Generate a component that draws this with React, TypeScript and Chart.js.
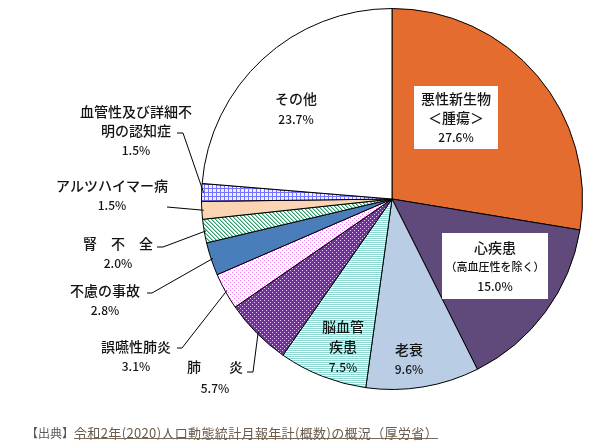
import React, { useEffect, useRef } from 'react';
import { Chart, registerables } from 'chart.js';

Chart.register(...registerables);

// ---- data ----
const categories = [
  '悪性新生物＜腫瘍＞',
  '心疾患（高血圧性を除く）',
  '老衰',
  '脳血管疾患',
  '肺炎',
  '誤嚥性肺炎',
  '不慮の事故',
  '腎不全',
  'アルツハイマー病',
  '血管性及び詳細不明の認知症',
  'その他',
];
const shares = [27.6, 15.0, 9.6, 7.5, 5.7, 3.1, 2.8, 2.0, 1.5, 1.5, 23.7];
const labelLines = [
  ['悪性新生物', '＜腫瘍＞'],
  ['心疾患', '（高血圧性を除く）'],
  ['老衰'],
  ['脳血管', '疾患'],
  ['肺　　炎'],
  ['誤嚥性肺炎'],
  ['不慮の事故'],
  ['腎　不　全'],
  ['アルツハイマー病'],
  ['血管性及び詳細不', '明の認知症'],
  ['その他'],
];
const sourceLabel = '【出典】';
const sourceTitle = '令和2年(2020)人口動態統計月報年計(概数)の概況（厚労省）';

// ---- styles / layout ----
const fills = [
  '#E46C2E', '#604A7B', '#B9CDE5', 'p:hlines', 'p:purpleDots', 'p:pinkDots',
  '#4A7EBB', 'p:greenDiag', '#FBD4B4', 'p:blueGrid', '#FFFFFF',
];

type LabelLayout = {
  dx: number; dy: number; box?: [number, number, number, number];
  small?: boolean; leader?: [number, number][]; lh?: number;
};
const layout: LabelLayout[] = [
  { dx: 64, dy: -100, box: [-42, -13, 84, 63] },
  { dx: 103, dy: 49, box: [-53, -15, 106, 66], small: true },
  { dx: 17, dy: 151 },
  { dx: -49, dy: 128, lh: 20 },
  { dx: -177, dy: 168, lh: 21, leader: [[-145, 173], [-139, 173]] },
  { dx: -256, dy: 148, leader: [[-215, 149], [-210, 149]] },
  { dx: -287, dy: 92, leader: [[-245, 94], [-240, 94]] },
  { dx: -274, dy: 45, leader: [[-235, 48], [-229, 48]] },
  { dx: -280, dy: -13, leader: [[-225, 8]] },
  { dx: -256, dy: -87, leader: [[-215, -66], [-209, -66]] },
  { dx: -96, dy: -100, lh: 20 },
];

function makePattern(kind: string): CanvasPattern | string {
  const c = document.createElement('canvas');
  let w = 4, h = 4;
  if (kind === 'hlines') { w = 4; h = 2; }
  c.width = w; c.height = h;
  const g = c.getContext('2d')!;
  g.fillStyle = '#ffffff';
  g.fillRect(0, 0, w, h);
  if (kind === 'hlines') {
    g.fillStyle = '#8fd8d2';
    g.fillRect(0, 0, w, 1);
  } else if (kind === 'purpleDots') {
    g.fillStyle = '#7030A0';
    g.fillRect(0, 0, w, h);
    g.fillStyle = '#e8ccf4';
    g.fillRect(0, 0, 1, 1);
    g.fillRect(2, 2, 1, 1);
  } else if (kind === 'pinkDots') {
    g.fillStyle = '#f57cf5';
    g.fillRect(0, 0, 1, 1);
    g.fillRect(2, 2, 1, 1);
  } else if (kind === 'greenDiag') {
    for (let y = 0; y < h; y++) {
      for (let x = 0; x < w; x++) {
        const m = (((x - y) % 4) + 4) % 4;
        if (m === 0) { g.fillStyle = '#2f9d6b'; g.fillRect(x, y, 1, 1); }
        else if (m === 1) { g.fillStyle = '#9fd5bb'; g.fillRect(x, y, 1, 1); }
      }
    }
  } else if (kind === 'blueGrid') {
    g.fillStyle = '#7373ff';
    g.fillRect(0, 0, w, h);
    g.fillStyle = '#f0f0ff';
    g.fillRect(1, 1, 3, 3);
  }
  return g.createPattern(c, 'repeat') || '#ffffff';
}

const FONT = '"Noto Sans CJK JP", "Noto Sans", sans-serif';
const TEXT = '#141414';

const labelPlugin = {
  id: 'sliceLabels',
  afterDraw(chart: any) {
    const ctx = chart.ctx as CanvasRenderingContext2D;
    const meta = chart.getDatasetMeta(0);
    const a0 = meta.data[0];
    const { x: cx, y: cy, outerRadius: R } = a0.getProps(['x', 'y', 'outerRadius'], true);
    ctx.save();
    layout.forEach((L, i) => {
      const arc = meta.data[i];
      const { startAngle, endAngle } = arc.getProps(['startAngle', 'endAngle'], true);
      const mid = (startAngle + endAngle) / 2;
      const lx = cx + L.dx;
      const ly = cy + L.dy;
      if (L.box) {
        ctx.fillStyle = '#ffffff';
        ctx.fillRect(lx + L.box[0], ly + L.box[1], L.box[2], L.box[3]);
      }
      if (L.leader) {
        ctx.strokeStyle = '#000000';
        ctx.lineWidth = 1;
        ctx.beginPath();
        L.leader.forEach(([px, py], k) => {
          if (k === 0) ctx.moveTo(cx + px, cy + py);
          else ctx.lineTo(cx + px, cy + py);
        });
        ctx.lineTo(cx + Math.cos(mid) * R * 0.99, cy + Math.sin(mid) * R * 0.99);
        ctx.stroke();
      }
      const lh = L.lh || 19;
      ctx.fillStyle = TEXT;
      ctx.textAlign = 'center';
      ctx.textBaseline = 'middle';
      const lines = labelLines[i];
      lines.forEach((t, k) => {
        ctx.font = (L.small && k === 1) ? `500 11px ${FONT}` : `500 14px ${FONT}`;
        ctx.fillText(t, lx, ly + k * lh);
      });
      ctx.font = `500 12px ${FONT}`;
      ctx.fillText(shares[i].toFixed(1) + '%', lx, ly + lines.length * lh);
    });

    // source footer
    ctx.textAlign = 'left';
    ctx.textBaseline = 'middle';
    ctx.font = `12px ${FONT}`;
    ctx.fillStyle = '#5a5a5a';
    ctx.fillText(sourceLabel, 26, 433);
    const x0 = 26 + ctx.measureText(sourceLabel).width;
    ctx.font = `13px ${FONT}`;
    const targetW = 364;
    const w0 = ctx.measureText(sourceTitle).width;
    const n = [...sourceTitle].length;
    (ctx as any).letterSpacing = `${(targetW - w0) / n}px`;
    ctx.fillStyle = '#6a5a4a';
    ctx.fillText(sourceTitle, x0, 433);
    (ctx as any).letterSpacing = '0px';
    ctx.strokeStyle = '#7a6a5a';
    ctx.lineWidth = 1;
    ctx.beginPath();
    ctx.moveTo(x0, 438.5);
    ctx.lineTo(x0 + targetW, 438.5);
    ctx.stroke();
    ctx.restore();
  },
};

export default function App() {
  const ref = useRef<HTMLCanvasElement | null>(null);
  useEffect(() => {
    if (!ref.current) return;
    const bg = fills.map((f) => (f.startsWith('p:') ? makePattern(f.slice(2)) : f));
    const chart = new Chart(ref.current, {
      type: 'pie',
      data: {
        labels: categories,
        datasets: [
          {
            data: shares,
            backgroundColor: bg as any,
            borderColor: '#000000',
            borderWidth: 1,
          },
        ],
      },
      options: {
        responsive: false,
        animation: false,
        layout: { padding: { left: 201, right: 23, top: 8, bottom: 58 } },
        plugins: {
          legend: { display: false },
          tooltip: { enabled: false },
        },
      },
      plugins: [labelPlugin],
    });
    return () => chart.destroy();
  }, []);
  return (
    <div style={{ position: 'fixed', left: 0, top: 0, width: 606, height: 448, background: '#fff' }}>
      <canvas ref={ref} width={606} height={448} style={{ display: 'block' }} />
    </div>
  );
}
